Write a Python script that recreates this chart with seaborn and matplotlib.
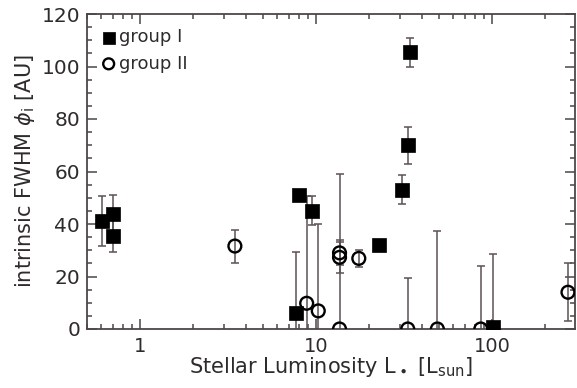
import matplotlib
matplotlib.use("Agg")
import matplotlib.pyplot as plt
import seaborn as sns
import numpy as np
from matplotlib.ticker import MultipleLocator, LogLocator, FixedLocator, FixedFormatter, NullFormatter

# ---- data ----
lum_g1 = [0.61, 0.70, 0.70, 8.0, 9.45, 7.67, 22.8, 30.7, 33.5, 34.0, 101.0]
fwhm_g1 = [41.0, 44.0, 35.5, 51.0, 45.0, 6.0, 32.0, 53.0, 70.0, 105.5, 0.7]
err_g1 = [9.5, 7.0, 6.0, 1.0, 5.5, 23.5, 0.0, 5.5, 7.0, 5.5, 28.0]

lum_g2 = [3.46, 8.85, 10.3, 13.6, 13.6, 13.6, 17.5, 33.2, 48.9, 86.3, 270.0]
fwhm_g2 = [31.6, 9.8, 6.9, 29.0, 27.3, 0.0, 26.9, 0.0, 0.0, 0.0, 14.0]
err_g2 = [6.3, 41.0, 33.0, 4.8, 6.0, 59.0, 3.3, 19.3, 37.3, 24.0, 11.0]

xticks = [1, 10, 100]
xticklabels = ["1", "10", "100"]
yticks = [0, 20, 40, 60, 80, 100, 120]

sns.set_style("ticks")
plt.rcParams['font.family'] = ['DejaVu Sans']

axcol = "#4d4646"
txtcol = "#2e2b2b"
errcol = "#5c5252"

fig = plt.figure(figsize=(5.77, 3.88), dpi=100)
ax = fig.add_axes([87/577, 1-329/388, (575-87)/577, (329-14)/388])

ax.errorbar(lum_g1, fwhm_g1, yerr=err_g1, fmt='none', ecolor=errcol,
            elinewidth=1.1, capsize=2.8, capthick=1.1, zorder=2)
ax.errorbar(lum_g2, fwhm_g2, yerr=err_g2, fmt='none', ecolor=errcol,
            elinewidth=1.1, capsize=2.8, capthick=1.1, zorder=2)

sns.scatterplot(x=lum_g1, y=fwhm_g1, marker='s', s=90, color='black',
                edgecolor='black', linewidth=0.5, ax=ax, label='group I', zorder=3)
sns.scatterplot(x=lum_g2, y=fwhm_g2, marker='o', s=85, facecolors='none',
                edgecolors='black', linewidth=1.7, ax=ax, label='group II', zorder=3)

ax.set_xscale('log')
ax.set_xlim(0.5, 296)
ax.set_ylim(0, 120)

ax.xaxis.set_major_locator(FixedLocator(xticks))
ax.xaxis.set_major_formatter(FixedFormatter(xticklabels))
ax.xaxis.set_minor_locator(LogLocator(base=10, subs=np.arange(2, 10) * 1.0, numticks=20))
ax.xaxis.set_minor_formatter(NullFormatter())
ax.yaxis.set_major_locator(FixedLocator(yticks))
ax.yaxis.set_minor_locator(MultipleLocator(5))

ax.tick_params(which='both', direction='in', top=True, right=True, color=axcol, width=1.1)
ax.tick_params(which='major', length=7)
ax.tick_params(which='minor', length=3.5)
ax.tick_params(axis='x', which='major', pad=6, labelsize=14, labelcolor=txtcol)
ax.tick_params(axis='y', which='major', pad=5, labelsize=14.5, labelcolor=txtcol)
ax.tick_params(axis='both', which='both', labelright=False, labeltop=False)

for sp in ax.spines.values():
    sp.set_visible(True)
    sp.set_color(axcol)
    sp.set_linewidth(1.3)

ax.set_xlabel(r"Stellar Luminosity L$_\bullet$ [L$_{\rm sun}$]", fontsize=15,
              color=txtcol, labelpad=-1)
ax.set_ylabel(r"intrinsic FWHM $\phi_{\rm i}$ [AU]", fontsize=15, color=txtcol, labelpad=3)

leg = ax.legend(loc='upper left', frameon=False, fontsize=13, handlelength=0.8,
                handletextpad=0.15, labelspacing=0.45, borderaxespad=0.4,
                bbox_to_anchor=(0.0, 1.0), labelcolor=txtcol, markerscale=0.85)

fig.savefig("out.png", dpi=100, facecolor='white')
